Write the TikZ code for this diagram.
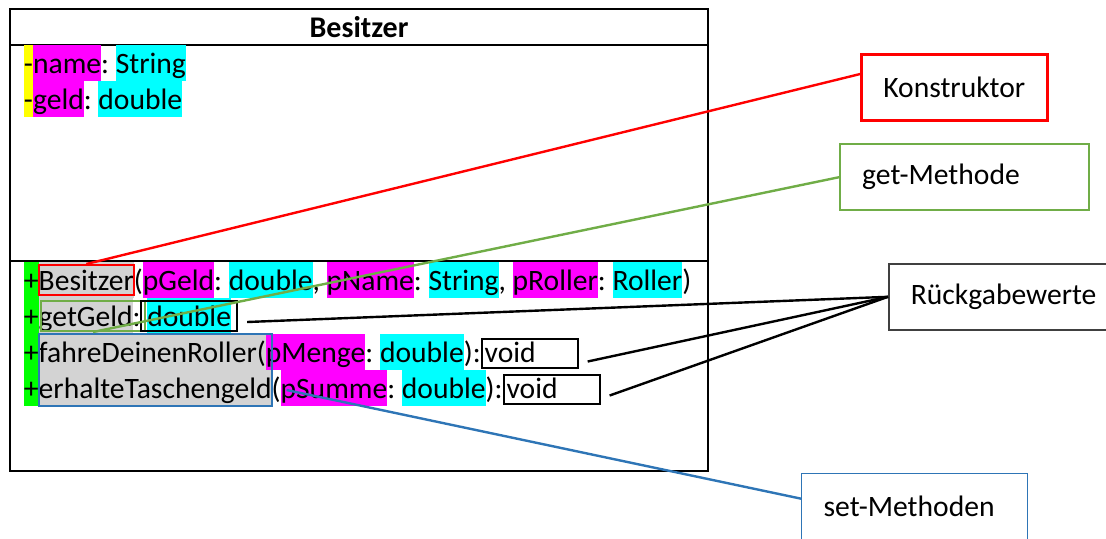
\documentclass[tikz,border=0pt]{standalone}
\usepackage{fontspec}
\setmainfont{Carlito}
\usetikzlibrary{fit}

\definecolor{hlyel}{HTML}{FFFF00}
\definecolor{hlmag}{HTML}{FF00FF}
\definecolor{hlcyan}{HTML}{00FFFF}
\definecolor{hlgreen}{HTML}{00FF00}
\definecolor{hlgray}{HTML}{D3D3D3}
\definecolor{konred}{HTML}{FF0000}
\definecolor{getgreen}{HTML}{70AD47}
\definecolor{setblue}{HTML}{2E75B6}

\tikzset{
  seg/.style={inner sep=0pt, outer sep=0pt, text height=14pt, text depth=4pt, anchor=base west},
  retbox/.style={draw, line width=1pt, inner xsep=1.5pt, inner ysep=0pt, text height=11.5pt, text depth=3pt, text width=45pt, align=left, anchor=base west},
  callout/.style={draw, minimum height=33pt, inner xsep=11pt, inner ysep=0pt, align=left, anchor=north west},
  link/.style={line width=1.2pt}
}

\begin{document}
\begin{tikzpicture}[x=0.5pt, y=-0.5pt, font=\fontsize{14.8}{18}\selectfont]
    \useasboundingbox (0,0) rectangle (1106,538);
    % Klasse
    \draw[line width=1pt] (10,9) rectangle (708,471);
    \draw[line width=1pt] (10,45) -- (708,45);
    \draw[line width=1pt] (10,261) -- (708,261);
    \node[font=\fontsize{15}{18}\selectfont\bfseries] (titel) at (359,27) {Besitzer};
    % Attribute
    \node[seg, fill=hlyel] (a1) at (24,73) {-};
    \node[seg, fill=hlmag] (a2) at (a1.base east) {name};
    \node[seg] (a3) at (a2.base east) {:\ \null};
    \node[seg, fill=hlcyan] (a4) at (a3.base east) {String};
    \node[seg, fill=hlyel] (b1) at (24,109) {-};
    \node[seg, fill=hlmag] (b2) at (b1.base east) {geld};
    \node[seg] (b3) at (b2.base east) {:\ \null};
    \node[seg, fill=hlcyan] (b4) at (b3.base east) {double};
    % Methoden
    \node[seg, fill=hlgreen] (k1) at (24,290) {+};
    \node[seg, fill=hlgray] (k2) at (k1.base east) {Besitzer};
    \node[seg] (k3) at (k2.base east) {(};
    \node[seg, fill=hlmag] (k4) at (k3.base east) {pGeld};
    \node[seg] (k5) at (k4.base east) {:\ \null};
    \node[seg, fill=hlcyan] (k6) at (k5.base east) {double};
    \node[seg] (k7) at (k6.base east) {,\ \null};
    \node[seg, fill=hlmag] (k8) at (k7.base east) {pName};
    \node[seg] (k9) at (k8.base east) {:\ \null};
    \node[seg, fill=hlcyan] (k10) at (k9.base east) {String};
    \node[seg] (k11) at (k10.base east) {,\ \null};
    \node[seg, fill=hlmag] (k12) at (k11.base east) {pRoller};
    \node[seg] (k13) at (k12.base east) {:\ \null};
    \node[seg, fill=hlcyan] (k14) at (k13.base east) {Roller};
    \node[seg] (k15) at (k14.base east) {)};

    \node[seg, fill=hlgreen] (g1) at (24,326) {+};
    \node[seg, fill=hlgray] (g2) at (g1.base east) {getGeld};
    \node[seg] (g3) at (g2.base east) {:\ \null};
    \node[seg, fill=hlcyan] (g4) at (g3.base east) {double};

    \node[seg, fill=hlgreen] (f1) at (24,362) {+};
    \node[seg, fill=hlgray] (f2) at (f1.base east) {fahreDeinenRoller};
    \node[seg, fill=hlgray] (f3) at (f2.base east) {(};
    \node[seg, fill=hlmag] (f4) at (f3.base east) {pMenge};
    \node[seg] (f5) at (f4.base east) {:\ \null};
    \node[seg, fill=hlcyan] (f6) at (f5.base east) {double};
    \node[seg] (f7) at (f6.base east) {):};
    \node[retbox] (f8) at (f7.base east) {void};

    \node[seg, fill=hlgreen] (e1) at (24,398) {+};
    \node[seg, fill=hlgray] (e2) at (e1.base east) {erhalteTaschengeld};
    \node[seg] (e3) at (e2.base east) {(};
    \node[seg, fill=hlmag] (e4) at (e3.base east) {pSumme};
    \node[seg] (e5) at (e4.base east) {:\ \null};
    \node[seg, fill=hlcyan] (e6) at (e5.base east) {double};
    \node[seg] (e7) at (e6.base east) {):};
    \node[retbox] (e8) at (e7.base east) {void};
    % Rahmen
    \node[draw=konred, line width=1pt, inner xsep=0pt, inner ysep=-1.5pt, fit=(k2)] (konbox) {};
    \node[draw=getgreen, line width=1pt, inner xsep=-1pt, inner ysep=-1.5pt, fit=(g2)(g3)] (getbox) {};
    \node[draw, line width=1pt, inner xsep=3pt, inner ysep=-1.5pt, fit=(g4)] (dblbox) {};
    \node[draw=setblue, line width=1pt, inner sep=0pt, fit=(f2)(e2)] (setbox) {};
    % Erklaerungen
    \node[callout, draw=konred, line width=1.3pt, text width=71pt] (kon) at (860,53) {Konstruktor};
    \node[callout, draw=getgreen, line width=1.2pt, text width=102.5pt] (get) at (839,143) {get-Methode};
    \node[callout, draw=black!75, line width=0.8pt, text width=94pt] (rueck) at (888,263) {Rückgabewerte};
    \node[callout, draw=setblue, line width=0.6pt, text width=91pt] (set) at (801,473) {set-Methoden};
    % Linien
    \draw[link, konred] (kon.172) -- (konbox.north);
    \draw[link, getgreen] (get.west) -- (getbox.south);
    \draw[link] (rueck.west) -- ([shift={(9,6)}]dblbox.east);
    \draw[link] (rueck.west) -- ([shift={(9,8)}]f8.east);
    \draw[link] (rueck.west) -- ([shift={(9,6)}]e8.east);
    \draw[link, setblue] (set.176) -- ([shift={(6,2)}]e4.west);
\end{tikzpicture}
\end{document}
